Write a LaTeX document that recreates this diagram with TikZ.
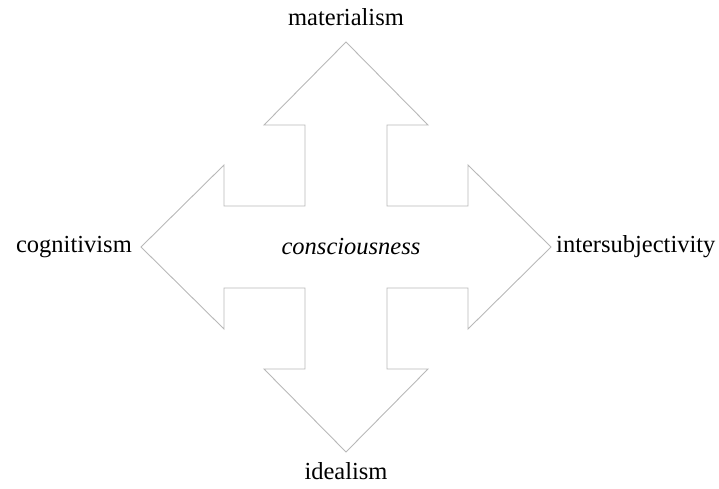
\documentclass[tikz,border=0pt]{standalone}
\usepackage{fontspec}
\setmainfont{Liberation Serif}
\usepackage{tikz}
\usetikzlibrary{
    positioning
}
\usepackage{xcolor}
\definecolor{lightline}{rgb}{0.72, 0.72, 0.72}
\tikzstyle{term} = [
    font=\fontsize{24.5}{29}\selectfont,
    inner sep=3pt
]
\tikzstyle{outline} = [
    draw=lightline,
    line width=0.9pt,
    line join=miter
]

\begin{document}
\begin{tikzpicture}[x=1pt, y=-1pt, node distance=8pt]
        \useasboundingbox (0,0) rectangle (719,489);

        % Four-way arrow
        \begin{scope}[shift={(346,247)}]
            \draw[outline] (0,-205) -- (82,-122) -- (41,-122) -- (41,-41) -- (122,-41) -- (122,-82)
                -- (205,0) -- (122,82) -- (122,41) -- (41,41) -- (41,122) -- (82,122)
                -- (0,205) -- (-82,122) -- (-41,122) -- (-41,41) -- (-122,41) -- (-122,82)
                -- (-205,0) -- (-122,-82) -- (-122,-41) -- (-41,-41) -- (-41,-122) -- (-82,-122) -- cycle;
            \coordinate (tipN) at (0,-205);
            \coordinate (tipE) at (205,0);
            \coordinate (tipS) at (0,205);
            \coordinate (tipW) at (-205,0);
            \node[term, font=\fontsize{24.5}{29}\selectfont\itshape] (centre) at (5,0) {consciousness};
        \end{scope}

        % Labels
        \node[term, above=13pt of tipN] (materialism) {materialism};
        \node[term, right=2pt of tipE] (intersubjectivity) {intersubjectivity};
        \node[term, below=7pt of tipS] (idealism) {idealism};
        \node[term, left=6pt of tipW] (cognitivism) {cognitivism};
    \end{tikzpicture}
\end{document}
